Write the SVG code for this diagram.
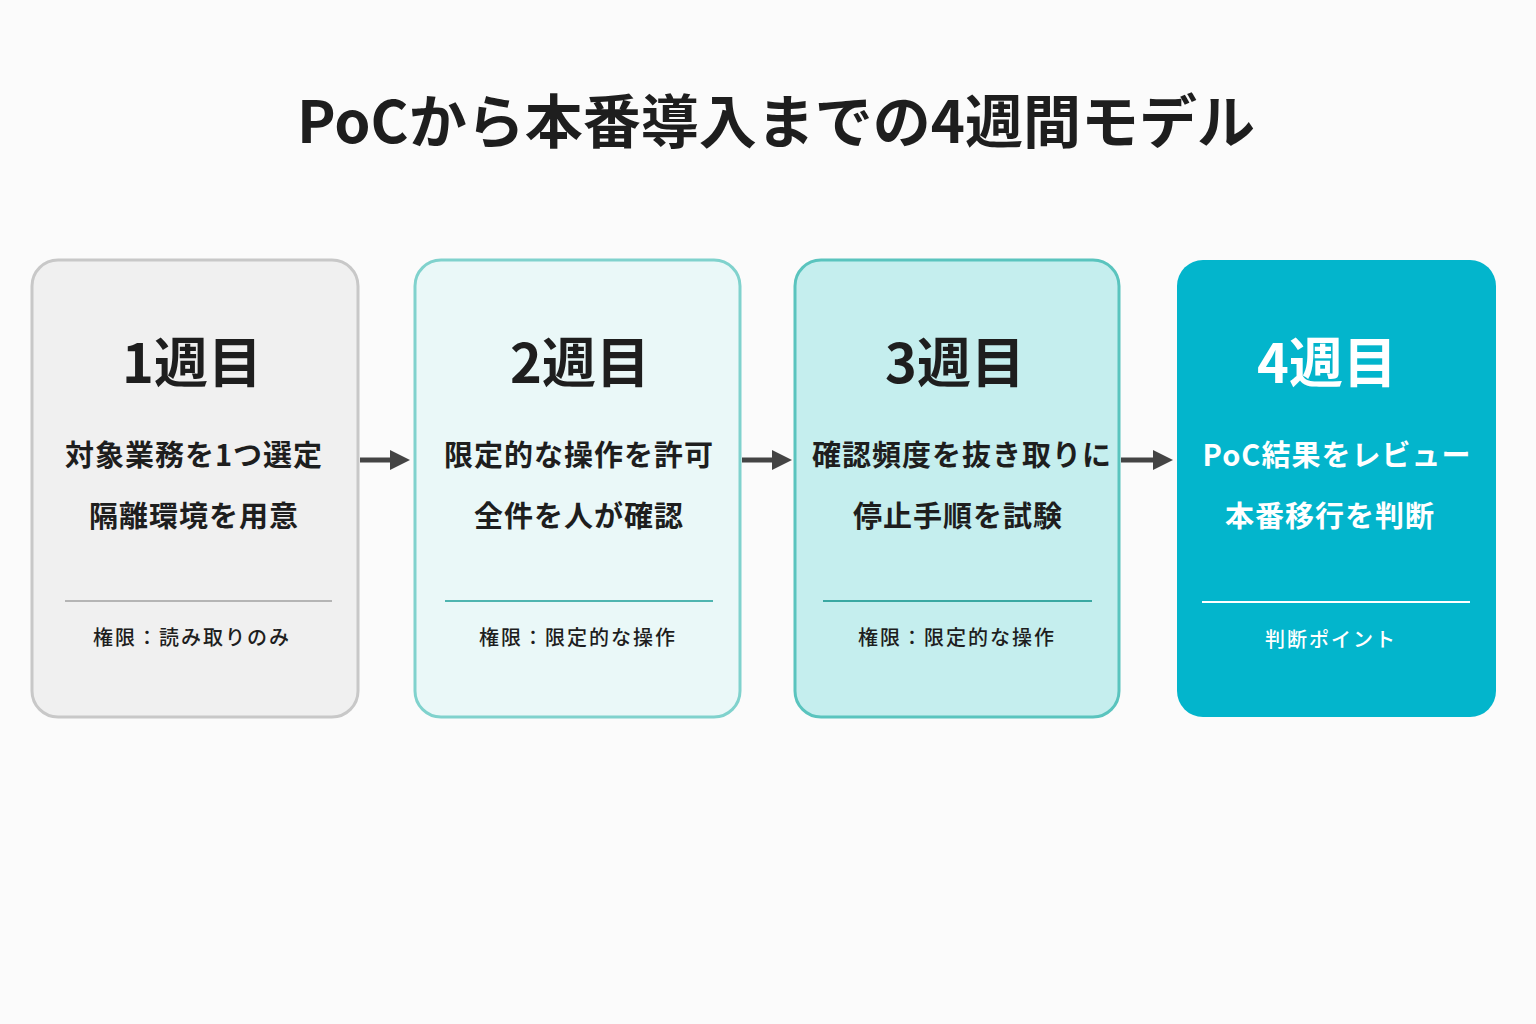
<svg xmlns="http://www.w3.org/2000/svg" width="1536" height="1024" viewBox="0 0 1536 1024">
<defs>
<style>
text{font-family:"Noto Sans CJK JP","Noto Sans",sans-serif;text-anchor:middle;fill:#1e1e1e}
.t{font-size:54px;font-weight:700}
.b{font-size:29px;font-weight:700;letter-spacing:1px}
.f{font-size:20px;font-weight:500;letter-spacing:2px}
.w{fill:#ffffff}
.c{stroke:#444;stroke-width:5;fill:none}
</style>
<marker id="a" viewBox="0 0 10 10" refX="5" refY="5" markerWidth="4" markerHeight="4" orient="auto"><path d="M0,0L10,5L0,10z" fill="#444"/></marker>
</defs>
<rect width="1536" height="1024" fill="#fbfbfb"/>
<text x="776" y="143" style="font-size:58px;font-weight:700">PoCから本番導入までの4週間モデル</text>
<g id="n1">
<rect x="32" y="260" width="326" height="457" rx="26" fill="#f0f0f0" stroke="#c8c8c8" stroke-width="3"/>
<text class="t" x="192" y="383">1週目</text>
<text class="b" x="194" y="466">対象業務を1つ選定</text>
<text class="b" x="194" y="527">隔離環境を用意</text>
<line x1="65" y1="601" x2="332" y2="601" stroke="#b5b5b5" stroke-width="2"/>
<text class="f" x="192" y="645">権限：読み取りのみ</text>
</g>
<g id="n2">
<rect x="415" y="260" width="325" height="457" rx="26" fill="#eaf8f8" stroke="#80d2cd" stroke-width="3"/>
<text class="t" x="580" y="383">2週目</text>
<text class="b" x="579" y="466">限定的な操作を許可</text>
<text class="b" x="579" y="527">全件を人が確認</text>
<line x1="445" y1="601" x2="713" y2="601" stroke="#4fb5b0" stroke-width="2"/>
<text class="f" x="578" y="645">権限：限定的な操作</text>
</g>
<g id="n3">
<rect x="795" y="260" width="324" height="457" rx="26" fill="#c5eeee" stroke="#5ac4be" stroke-width="3"/>
<text class="t" x="955" y="383">3週目</text>
<text class="b" x="962" y="466">確認頻度を抜き取りに</text>
<text class="b" x="958" y="527">停止手順を試験</text>
<line x1="823" y1="601" x2="1092" y2="601" stroke="#3aa8a2" stroke-width="2"/>
<text class="f" x="957" y="645">権限：限定的な操作</text>
</g>
<g id="n4">
<rect x="1177" y="260" width="319" height="457" rx="26" fill="#03b5cc"/>
<text class="t w" x="1327" y="383">4週目</text>
<text class="b w" x="1337" y="466">PoC結果をレビュー</text>
<text class="b w" x="1330" y="527">本番移行を判断</text>
<line x1="1202" y1="602" x2="1470" y2="602" stroke="#ffffff" stroke-width="2"/>
<text class="f w" x="1331" y="647">判断ポイント</text>
</g>
<g id="connectors">
<line class="c" x1="360" y1="460" x2="400" y2="460" marker-end="url(#a)"/>
<line class="c" x1="742" y1="460" x2="782" y2="460" marker-end="url(#a)"/>
<line class="c" x1="1121" y1="460" x2="1163" y2="460" marker-end="url(#a)"/>
</g>
</svg>
